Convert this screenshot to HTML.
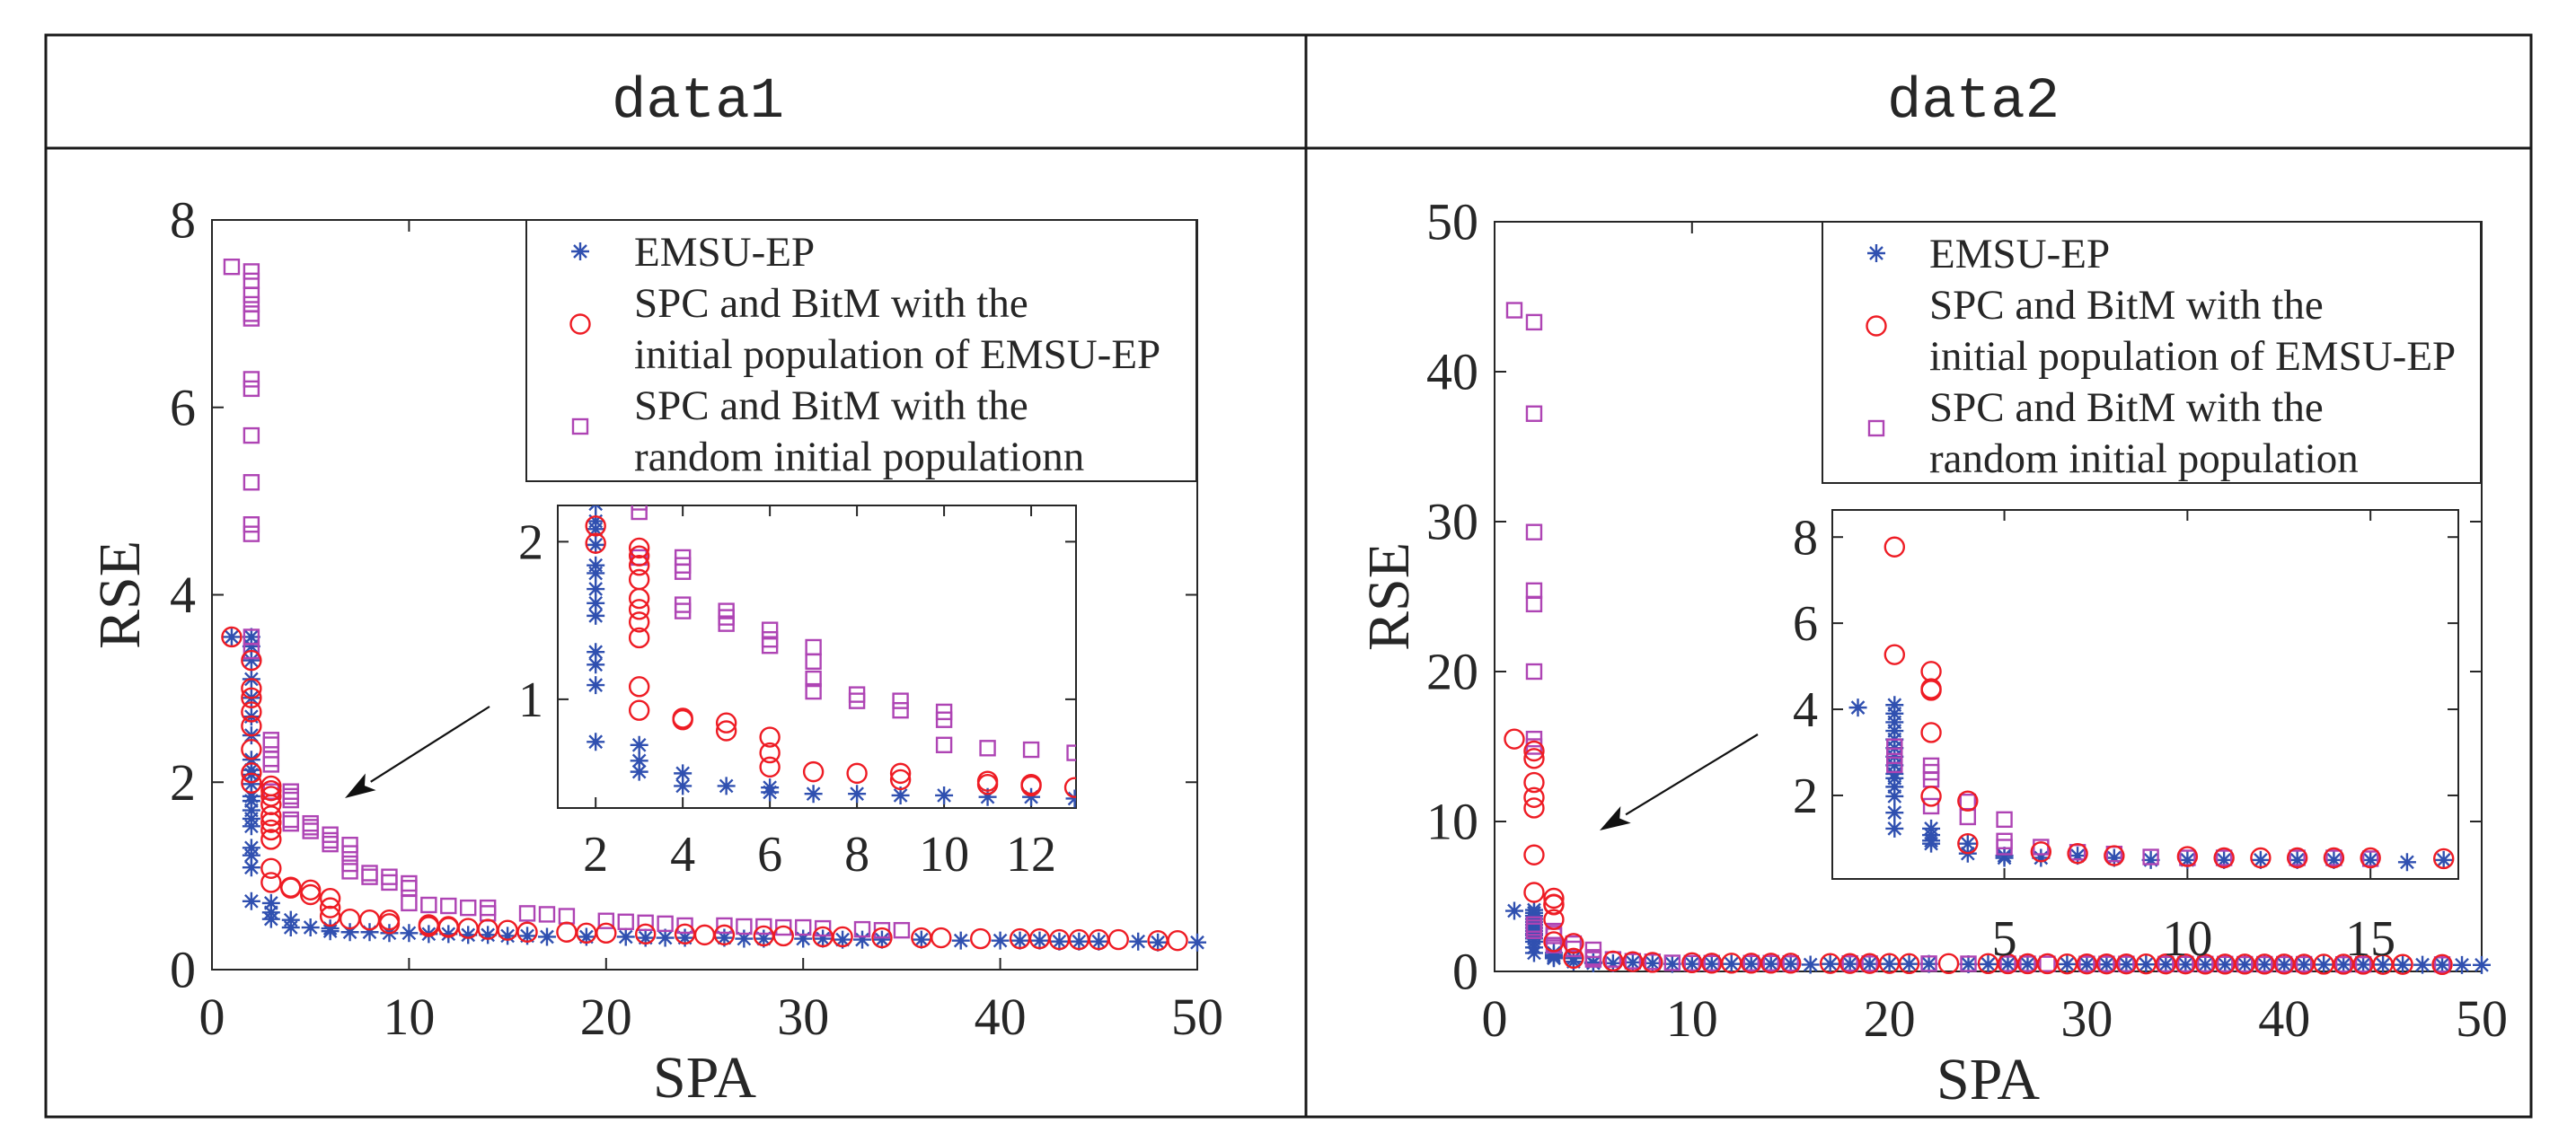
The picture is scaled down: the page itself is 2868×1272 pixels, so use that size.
<!DOCTYPE html>
<html><head><meta charset="utf-8"><style>
html,body{margin:0;padding:0;background:#fff;}
svg{display:block;}
svg text{font-family:"Liberation Serif",serif !important;fill:#262626;}
svg text.mono{font-family:"Liberation Mono",monospace !important;}
</style></head><body>
<svg id="fig" width="2868" height="1272" viewBox="0 0 2868 1272" xmlns="http://www.w3.org/2000/svg">
<rect x="0" y="0" width="2868" height="1272" fill="#fff"/>
<g stroke="#1a1a1a" stroke-width="3" fill="none">
<rect x="51" y="39" width="2767" height="1205"/>
<line x1="51" y1="165" x2="2818" y2="165"/>
<line x1="1454" y1="39" x2="1454" y2="1244"/>
</g>
<text class="mono" x="777" y="130" text-anchor="middle" font-family="Liberation Mono, monospace" font-size="64">data1</text>
<text class="mono" x="2197" y="130" text-anchor="middle" font-family="Liberation Mono, monospace" font-size="64">data2</text>
<g id="p1"></g>
<g id="p2"></g>
</svg>
<script>
// ---------- data1 ----------
const d1Emsu = [[1,3.55],[2,3.55],[2,3.45],[2,3.3],[2,3.1],[2,2.9],[2,2.7],[2,2.5],[2,2.24],[2,2.13],[2,2.08],[2,1.98],[2,1.85],[2,1.8],[2,1.7],[2,1.61],[2,1.53],[2,1.3],[2,1.22],[2,1.09],[2,0.73],
[3,0.71],[3,0.61],[3,0.54],[4,0.53],[4,0.45],[5,0.45],[6,0.44],[6,0.41],[7,0.4],[8,0.4],[9,0.39],[10,0.39],[11,0.38],[12,0.38],[13,0.37],[14,0.37],[15,0.36],[16,0.36],[17,0.35],[19,0.35],[21,0.35],[22,0.34],[23,0.34],[24,0.34],[26,0.34],[27,0.33],[28,0.33],[30,0.33],[31,0.33],[32,0.32],[33,0.32],[34,0.32],[36,0.32],[38,0.31],[40,0.31],[41,0.31],[42,0.31],[43,0.3],[44,0.3],[45,0.3],[47,0.3],[48,0.29],[50,0.29]];
const d1Spc = [[1,3.55],[2,3.3],[2,3.0],[2,2.9],[2,2.75],[2,2.6],[2,2.35],[2,2.1],[2,1.99],
[3,1.96],[3,1.91],[3,1.85],[3,1.76],[3,1.64],[3,1.57],[3,1.49],[3,1.39],[3,1.08],[3,0.93],[4,0.88],[4,0.87],[5,0.85],[5,0.8],[6,0.76],[6,0.66],[6,0.57],[7,0.54],[8,0.53],[9,0.53],[9,0.49],[11,0.48],[11,0.46],[12,0.46],[12,0.45],[13,0.44],[14,0.43],[15,0.42],[16,0.4],[18,0.4],[19,0.39],[20,0.39],[22,0.38],[24,0.38],[25,0.37],[26,0.37],[28,0.36],[29,0.36],[31,0.35],[32,0.35],[34,0.34],[36,0.34],[37,0.34],[39,0.33],[41,0.33],[42,0.33],[43,0.32],[44,0.32],[45,0.32],[46,0.32],[48,0.31],[49,0.31]];
const d1Rand = [[1,7.5],[2,7.45],[2,7.35],[2,7.2],[2,7.1],[2,7.0],[2,6.95],[2,6.3],[2,6.2],[2,5.7],[2,5.2],[2,4.75],[2,4.65],[2,3.55],[2,3.4],
[3,2.45],[3,2.4],[3,2.25],[3,2.19],[3,1.9],[4,1.9],[4,1.85],[4,1.81],[4,1.6],[4,1.56],[5,1.56],[5,1.52],[5,1.48],[6,1.44],[6,1.38],[6,1.34],[7,1.33],[7,1.24],[7,1.13],[7,1.05],[8,1.03],[8,0.99],[9,0.99],[9,0.93],[10,0.92],[10,0.87],[10,0.71],[11,0.69],[12,0.68],[13,0.66],[14,0.66],[14,0.6],[16,0.6],[17,0.59],[18,0.57],[20,0.52],[21,0.51],[22,0.5],[23,0.49],[24,0.47],[26,0.47],[27,0.46],[28,0.46],[29,0.45],[30,0.45],[31,0.44],[33,0.43],[34,0.42],[35,0.42]];
const d1XTicks = [0,10,20,30,40,50];
const d1YTicks = [0,2,4,6,8];
const d1InXTicks = [2,4,6,8,10,12];
const d1InYTicks = [1,2];
const d1Legend = [["EMSU-EP"],["SPC and BitM with the"," initial population of EMSU-EP"],["SPC and BitM with the","random initial populationn"]];

// ---------- data2 ----------
const d2Emsu = [[1,4.04],[2,4.1],[2,3.9],[2,3.7],[2,3.5],[2,3.3],[2,3.1],[2,2.9],[2,2.7],[2,2.5],[2,2.4],[2,2.2],[2,1.98],[2,1.6],[2,1.23],
[3,1.23],[3,1.08],[3,0.95],[3,0.88],[4,0.88],[4,0.65],[5,0.6],[5,0.55],[6,0.55],[7,0.6],[8,0.55],[9,0.5],[10,0.5],[11,0.5],[12,0.5],[13,0.5],[14,0.5],[15,0.5],[16,0.45],[17,0.5],[18,0.5],[19,0.5],[20,0.5],[21,0.5],[22,0.5],[24,0.48],[25,0.48],[26,0.48],[27,0.48],[29,0.48],[30,0.47],[31,0.47],[32,0.47],[33,0.47],[34,0.47],[35,0.46],[36,0.46],[37,0.46],[38,0.46],[39,0.46],[40,0.45],[41,0.45],[42,0.45],[43,0.45],[44,0.45],[45,0.45],[46,0.44],[47,0.44],[48,0.44],[49,0.43],[50,0.43]];
const d2Spc = [[1,15.5],[2,14.7],[2,14.2],[2,12.6],[2,11.6],[2,10.9],[2,7.77],[2,5.27],
[3,4.88],[3,4.48],[3,4.44],[3,3.46],[3,1.98],[4,1.87],[4,0.88],[6,0.69],[7,0.65],[8,0.6],[10,0.58],[11,0.55],[12,0.55],[13,0.55],[14,0.55],[15,0.55],[17,0.53],[18,0.53],[19,0.53],[20,0.53],[21,0.52],[23,0.52],[25,0.52],[26,0.51],[27,0.51],[28,0.51],[29,0.5],[30,0.5],[31,0.5],[32,0.5],[33,0.5],[34,0.5],[35,0.5],[36,0.49],[37,0.49],[38,0.49],[39,0.49],[40,0.49],[41,0.48],[42,0.48],[43,0.48],[44,0.48],[45,0.47],[46,0.47],[48,0.46]];
const d2Rand = [[1,44.1],[2,43.3],[2,37.2],[2,29.3],[2,25.4],[2,24.5],[2,20.0],[2,15.5],[2,15.0],[2,3.13],[2,2.92],[2,2.71],
[3,2.69],[3,2.54],[3,2.37],[3,1.75],[4,1.85],[4,1.5],[5,1.44],[5,0.94],[5,0.8],[6,0.8],[7,0.68],[8,0.64],[9,0.57],[10,0.55],[11,0.55],[13,0.55],[14,0.55],[15,0.53],[18,0.53],[19,0.52],[22,0.52],[24,0.51],[26,0.51],[27,0.51],[28,0.5],[30,0.5],[31,0.5],[32,0.5],[34,0.49],[35,0.49],[36,0.49],[37,0.49],[38,0.48],[39,0.48],[40,0.48],[41,0.48],[43,0.47],[44,0.47],[48,0.46]];
const d2XTicks = [0,10,20,30,40,50];
const d2YTicks = [0,10,20,30,40,50];
const d2InXTicks = [5,10,15];
const d2InYTicks = [2,4,6,8];
const d2Legend = [["EMSU-EP"],["SPC and BitM with the","initial population of EMSU-EP"],["SPC and BitM with the","random initial population"]];

const NS = "http://www.w3.org/2000/svg";
const SERIF = "Liberation Serif, serif";
const BLUE = "#3050b0", RED = "#ee1c24", PURP = "#ae44b4";
function mk(tag, attrs, parent){ const e=document.createElementNS(NS,tag); for(const k in attrs) e.setAttribute(k,attrs[k]); parent.appendChild(e); return e; }
function scale(d0,d1,r0,r1){ return v => r0 + (v-d0)*(r1-r0)/(d1-d0); }

function marker(g, type, cx, cy){
  let m;
  if(type==='star'){
    m = mk('path',{d:`M${cx-10},${cy}H${cx+10}M${cx},${cy-10}V${cy+10}M${cx-7},${cy-7}L${cx+7},${cy+7}M${cx-7},${cy+7}L${cx+7},${cy-7}`,stroke:BLUE,'stroke-width':2.4,fill:'none'},g);
    
  } else if(type==='circ'){
    m = mk('circle',{cx:cx,cy:cy,r:10.5,stroke:RED,'stroke-width':2.4,fill:'none'},g);
    
  } else {
    m = mk('rect',{x:cx-8,y:cy-8,width:16,height:16,stroke:PURP,'stroke-width':2.4,fill:'none'},g);
    
  }
  
}

function txt(parent, attrs, s){
  attrs['font-family']=SERIF;
  const t=mk('text',attrs,parent);
  t.textContent=s;
  return t;
}

function axes(g, box, xd, yd, xt, yt, fs, id, xlabY, ylabX, tickLen){
  const sx = scale(xd[0],xd[1],box.x0,box.x1), sy = scale(yd[0],yd[1],box.y1,box.y0);
  const frame = mk('rect',{x:box.x0,y:box.y0,width:box.x1-box.x0,height:box.y1-box.y0,fill:'#fff',stroke:'#262626','stroke-width':2},g);
  
  
  const ticks = mk('g',{stroke:'#262626','stroke-width':2},g);
  
  
  xt.forEach(v=>{
    const x=sx(v);
    mk('line',{x1:x,y1:box.y1,x2:x,y2:box.y1-tickLen},ticks);
    mk('line',{x1:x,y1:box.y0,x2:x,y2:box.y0+tickLen},ticks);
    const t=txt(g,{x:x,y:xlabY,'text-anchor':'middle','font-size':fs},String(v));
    
    
  });
  yt.forEach(v=>{
    const y=sy(v);
    mk('line',{x1:box.x0,y1:y,x2:box.x0+tickLen,y2:y},ticks);
    mk('line',{x1:box.x1,y1:y,x2:box.x1-tickLen,y2:y},ticks);
    const t=txt(g,{x:ylabX,y:y+fs*0.34,'text-anchor':'end','font-size':fs},String(v));
    
    
  });
  return {sx,sy};
}

function drawPanel(root, cfg){
  const {sx,sy} = axes(root, cfg.box, cfg.xd, cfg.yd, cfg.xt, cfg.yt, 58, cfg.id+'-main', cfg.box.y1+72, cfg.box.x0-18, 13);
  const pts = mk('g',{},root);
  
  
  cfg.emsu.forEach(p=>marker(pts,'star',sx(p[0]),sy(p[1])));
  cfg.rand.forEach(p=>marker(pts,'sq',sx(p[0]),sy(p[1])));
  cfg.spc.forEach(p=>marker(pts,'circ',sx(p[0]),sy(p[1])));
  const xl = txt(root,{x:(cfg.box.x0+cfg.box.x1)/2,y:cfg.box.y1+142,'text-anchor':'middle','font-size':66},'SPA');
  
  
  const yx=cfg.yLabX, yy=(cfg.box.y0+cfg.box.y1)/2;
  const yl = txt(root,{x:yx,y:yy,'text-anchor':'middle','font-size':66,transform:`rotate(-90 ${yx} ${yy})`},'RSE');
  
  
  const L = cfg.leg;
  const lg = mk('g',{},root);
  
  
  mk('rect',{x:L.x0,y:L.y0,width:L.x1-L.x0,height:L.y1-L.y0,fill:'#fff',stroke:'#262626','stroke-width':2},lg);
  const types=['star','circ','sq'];
  const mys=[L.y0+35, L.y0+116, L.y0+230];
  let line=0;
  cfg.legText.forEach((lines,i)=>{
    marker(lg,types[i],L.x0+60,mys[i]);
    lines.forEach(s=>{
      const t=txt(lg,{x:L.tx,y:L.y0+51+line*57,'font-size':47,'xml:space':'preserve'},s);
      
      
      line++;
    });
  });
  const A=cfg.arrow;
  const ag=mk('g',{},root);
  
  
  const dx=A[2]-A[0], dy=A[3]-A[1], len=Math.hypot(dx,dy), ux=dx/len, uy=dy/len;
  const bx=A[2]-ux*34, by=A[3]-uy*34;
  mk('line',{x1:A[0],y1:A[1],x2:bx,y2:by,stroke:'#111','stroke-width':2.2},ag);
  mk('path',{d:`M${A[2]},${A[3]}L${bx-uy*11},${by+ux*11}L${bx+ux*8},${by+uy*8}L${bx+uy*11},${by-ux*11}Z`,fill:'#111'},ag);
  const ig = mk('g',{},root);
  
  
  const I=cfg.inset;
  const s2 = axes(ig, I.box, I.xd, I.yd, I.xt, I.yt, 56, cfg.id+'-inset', I.xlabY, I.box.x0-16, 12);
  const cid = cfg.id+'-clip';
  const cp = mk('clipPath',{id:cid},ig);
  mk('rect',{x:I.box.x0,y:I.box.y0,width:I.box.x1-I.box.x0,height:I.box.y1-I.box.y0},cp);
  const ip = mk('g',{'clip-path':`url(#${cid})`},ig);
  
  
  const inR = p => p[0]>=I.xd[0]-0.5 && p[0]<=I.xd[1]+0.5 && p[1]<=I.yd[1]+0.3;
  cfg.emsu.filter(inR).forEach(p=>marker(ip,'star',s2.sx(p[0]),s2.sy(p[1])));
  cfg.rand.filter(inR).forEach(p=>marker(ip,'sq',s2.sx(p[0]),s2.sy(p[1])));
  cfg.spc.filter(inR).forEach(p=>marker(ip,'circ',s2.sx(p[0]),s2.sy(p[1])));
}

drawPanel(document.getElementById('p1'),{
  id:'data1', box:{x0:236,x1:1333,y0:245,y1:1080}, xd:[0,50], yd:[0,8], xt:d1XTicks, yt:d1YTicks,
  emsu:d1Emsu, spc:d1Spc, rand:d1Rand, yLabX:155,
  leg:{x0:586,x1:1332,y0:245,y1:536,tx:706}, legText:d1Legend,
  arrow:[545,787,384,889],
  inset:{box:{x0:621,x1:1198,y0:563,y1:900}, xd:[1.13,13.03], yd:[0.31,2.23], xt:d1InXTicks, yt:d1InYTicks, xlabY:970}
});
drawPanel(document.getElementById('p2'),{
  id:'data2', box:{x0:1664,x1:2763,y0:247,y1:1082}, xd:[0,50], yd:[0,50], xt:d2XTicks, yt:d2YTicks,
  emsu:d2Emsu, spc:d2Spc, rand:d2Rand, yLabX:1568,
  leg:{x0:2029,x1:2762,y0:247,y1:538,tx:2148}, legText:d2Legend,
  arrow:[1957,818,1781,925],
  inset:{box:{x0:2040,x1:2737,y0:568,y1:979}, xd:[0.3,17.4], yd:[0.06,8.63], xt:d2InXTicks, yt:d2InYTicks, xlabY:1064}
});
</script>
</body></html>
